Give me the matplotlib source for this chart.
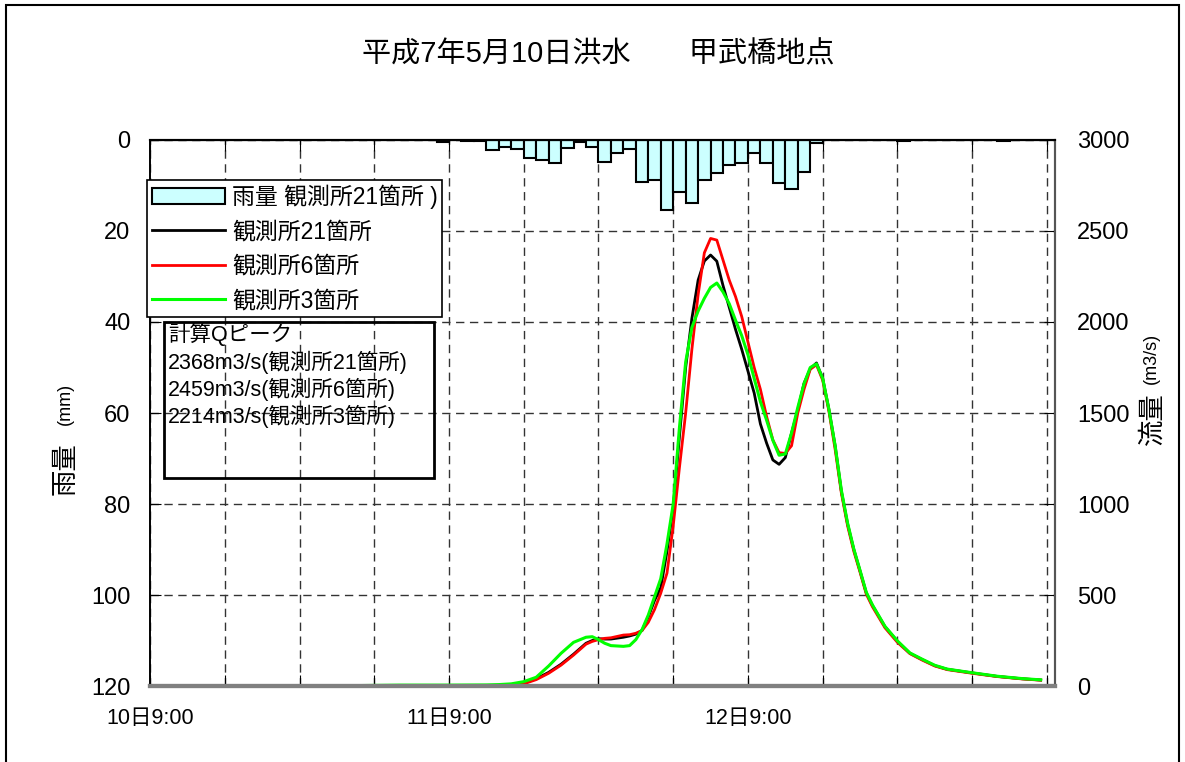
import numpy as np
import matplotlib
matplotlib.use("Agg")
import matplotlib.pyplot as plt
from matplotlib.patches import Rectangle

plt.rcParams['font.family'] = ['Liberation Sans', 'Noto Sans CJK JP', 'DejaVu Sans']

# 時間雨量 (mm) : 10日9:00 からの経過時間 0..71
rain = [0] * 23 + [0.5, 0, 0.2, 0.3,
        2.2, 1.5, 2.0, 4.0, 4.3, 5.0, 1.8, 0.5, 1.5, 4.8, 2.9, 2.0,
        9.3, 8.9, 15.4, 11.4, 13.9, 8.8, 7.3, 5.5, 5.1, 2.8, 5.1,
        9.5, 10.8, 7.0, 0.7,
        0, 0, 0, 0, 0, 0, 0.2, 0, 0, 0, 0, 0, 0, 0, 0.2, 0, 0, 0]
rain_hours = np.arange(len(rain))

# 流量ハイドログラフ (m3/s)
hours = [0, 12, 16, 20, 24, 27, 28, 29, 30, 31, 32, 33, 34, 35, 35.5, 36, 36.5, 37, 38,
         38.5, 39, 39.5, 40, 40.5, 41, 41.5, 42, 42.5, 43, 43.5, 44, 44.5, 45, 45.5,
         46, 46.5, 47, 47.5, 48, 48.5, 49, 49.5, 50, 50.5, 51, 51.5, 52, 52.5, 53,
         53.5, 54, 54.5, 55, 55.5, 56, 56.5, 57, 57.5, 58, 59, 60, 61, 62, 63, 64,
         66, 68, 70, 71.5]
q21 = [0, 0, 0, 0, 0, 2, 3, 6, 15, 40, 75, 120, 175, 235, 250, 260, 258, 258, 268,
       275, 285, 305, 380, 470, 540, 740, 980, 1370, 1750, 2020, 2230, 2335, 2368, 2334,
       2200, 2080, 1960, 1850, 1730, 1610, 1440, 1334, 1242, 1218, 1255, 1390, 1516, 1663, 1742,
       1775, 1690, 1520, 1320, 1070, 890, 750, 632, 512, 442, 326, 245, 180, 145, 112, 92,
       72, 53, 40, 33]
q6 = [0, 0, 0, 0, 0, 2, 3, 5, 12, 35, 70, 115, 170, 230, 245, 255, 262, 265, 280,
      282, 290, 305, 350, 420, 510, 620, 880, 1200, 1500, 1850, 2150, 2380, 2459, 2450,
      2340, 2230, 2140, 2030, 1890, 1750, 1630, 1480, 1352, 1282, 1278, 1320, 1500, 1630, 1740,
      1765, 1680, 1510, 1300, 1060, 880, 740, 625, 505, 435, 320, 240, 178, 142, 110, 90,
      70, 52, 39, 32]
q3 = [0, 0, 2, 5, 5, 6, 8, 12, 24, 48, 110, 180, 240, 268, 271, 255, 235, 222, 218,
      222, 255, 310, 390, 490, 590, 780, 1000, 1420, 1780, 1970, 2060, 2130, 2190, 2214,
      2165, 2100, 2010, 1925, 1820, 1690, 1562, 1460, 1350, 1268, 1275, 1390, 1530, 1660, 1750,
      1770, 1690, 1520, 1320, 1075, 895, 752, 635, 515, 445, 328, 248, 182, 147, 114, 93,
      73, 54, 41, 34]

peak_lines = ['計算Qピーク',
              '2368m3/s(観測所21箇所)',
              '2459m3/s(観測所6箇所)',
              '2214m3/s(観測所3箇所)']
xtick_labels = {0: '10日9:00', 24: '11日9:00', 48: '12日9:00'}

fig = plt.figure(figsize=(11.85, 7.62), dpi=100)
ax1 = fig.add_axes([0.1266, 0.0997, 0.7637, 0.7166])
ax2 = ax1.twinx()

# 雨量 (上から下向き)
bars = ax1.bar(rain_hours, rain, width=1.0, align='edge', color='#CCFFFF',
               edgecolor='black', linewidth=1.5, label='雨量 観測所21箇所 )')
ax1.set_ylim(120, 0)
ax1.set_yticks(range(0, 121, 20))
ax1.set_xlim(0, 72.65)
ax1.set_xticks(range(0, 73, 6))
ax1.set_xticklabels([xtick_labels.get(h, '') for h in range(0, 73, 6)], fontsize=15.5)
ax1.grid(True, color='#333333', linestyle=(0, (6, 4)), linewidth=1)
ax1.set_axisbelow(True)
ax1.tick_params(axis='x', direction='in', top=True, length=8, pad=16)
ax1.tick_params(axis='y', direction='in', length=8, labelsize=17, pad=14)

# 流量
l1, = ax2.plot(hours, q21, color='black', lw=2, label='観測所21箇所')
l2, = ax2.plot(hours, q6, color='#FF0000', lw=2, label='観測所6箇所')
l3, = ax2.plot(hours, q3, color='#00FF00', lw=2.2, label='観測所3箇所')
ax2.set_ylim(0, 3000)
ax2.set_yticks(range(0, 3001, 500))
ax2.tick_params(axis='y', direction='in', length=8, labelsize=17, pad=16)

for ax in (ax1, ax2):
    ax.spines['bottom'].set_color('#808080')
    ax.spines['bottom'].set_linewidth(3)
    ax.spines['right'].set_color('#555555')
    ax.spines['right'].set_linewidth(1.5)
    ax.spines['top'].set_linewidth(1.5)
    ax.spines['left'].set_linewidth(1.2)

leg = ax2.legend([bars, l1, l2, l3], [bars.get_label(), l1.get_label(), l2.get_label(), l3.get_label()],
                 loc='upper left', bbox_to_anchor=(-0.003, 0.927), borderaxespad=0,
                 fontsize=16.5, handlelength=3.2, handletextpad=0.3, labelspacing=0.5,
                 borderpad=0.2, fancybox=False, framealpha=1, edgecolor='black')
leg.get_frame().set_linewidth(1.2)

# 計算Qピーク の枠
ax2.add_patch(Rectangle((0.0155, 0.381), 0.2983, 0.286, transform=ax2.transAxes,
                        fill=False, edgecolor='black', linewidth=2, zorder=5))
for i, s in enumerate(peak_lines):
    ax2.text(0.02, 0.643 - i * 0.05, s, transform=ax2.transAxes, fontsize=15.5,
             va='center', ha='left', zorder=6)

# タイトル・軸ラベル
fig.text(0.505, 0.928, '平成7年5月10日洪水　　甲武橋地点', fontsize=21, ha='center', va='center')
fig.text(0.055, 0.385, '雨量', fontsize=19, rotation=90, ha='center', va='center')
fig.text(0.055, 0.47, '(mm)', fontsize=13, rotation=90, ha='center', va='center')
fig.text(0.972, 0.45, '流量', fontsize=19, rotation=90, ha='center', va='center')
fig.text(0.972, 0.53, '(m3/s)', fontsize=13, rotation=90, ha='center', va='center')

fig.patches.append(Rectangle((0.005, -0.01), 0.99, 1.004, transform=fig.transFigure,
                             fill=False, edgecolor='black', linewidth=1.5))

fig.savefig('out.png', dpi=100)
